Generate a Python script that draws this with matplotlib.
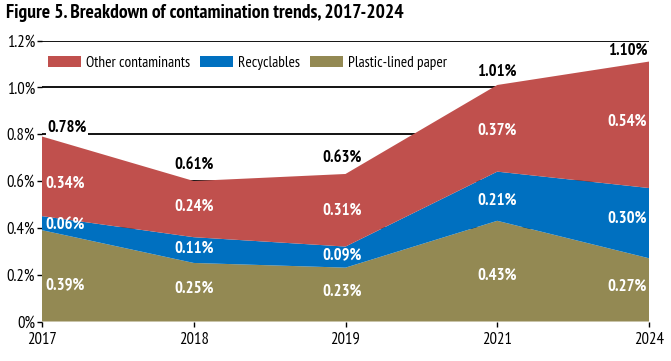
import numpy as np
import matplotlib
matplotlib.use("Agg")
import matplotlib.pyplot as plt

plt.rcParams['font.family'] = ['PT Sans Narrow', 'DejaVu Sans']

# data
years = ['2017', '2018', '2019', '2021', '2024']
plastic = [0.39, 0.25, 0.23, 0.43, 0.27]
recyclables = [0.06, 0.11, 0.09, 0.21, 0.30]
other = [0.34, 0.24, 0.31, 0.37, 0.54]
totals = ['0.78%', '0.61%', '0.63%', '1.01%', '1.10%']
yticks = [0, 0.2, 0.4, 0.6, 0.8, 1.0, 1.2]

c_other = '#C0504D'
c_rec = '#0070C0'
c_plastic = '#938953'

fig = plt.figure(figsize=(6.71, 3.61), dpi=100)
ax = fig.add_axes([42 / 671, 39.5 / 361, 607 / 671, 281 / 361])

x = np.arange(len(years))
ax.stackplot(x, plastic, recyclables, other,
             colors=[c_plastic, c_rec, c_other],
             labels=['Plastic-lined paper', 'Recyclables', 'Other contaminants'],
             zorder=2)

for yv in yticks[1:]:
    ax.axhline(yv, color='black', lw=1.3, zorder=1)

ax.set_xlim(0, len(years) - 1)
ax.set_ylim(0, 1.2)
ax.set_xticks(x)
ax.set_xticklabels(years)
ax.set_yticks(yticks)
ax.set_yticklabels(['0%' if v == 0 else '%.1f%%' % v for v in yticks])
ax.tick_params(axis='both', labelsize=12, length=3.6, width=1, colors='black')
ax.tick_params(axis='x', pad=4)
ax.tick_params(axis='y', pad=1.5)
for s in ax.spines.values():
    s.set_visible(False)

# label tweaks
xoff = [0.15, 0.0, -0.02, 0.0, -0.145]
yadj = [[-0.04, 0.015, 0.01, -0.02, 0.013],
        [-0.01, 0.005, 0.01, -0.02, 0.02],
        [-0.03, 0.01, 0.0, -0.01, 0.013]]

p = np.array(plastic)
r = np.array(recyclables)
o = np.array(other)
bands = [(p, np.zeros_like(p)), (r, p), (o, p + r)]
vals = [plastic, recyclables, other]
for k, ((h, base), v) in enumerate(zip(bands, vals)):
    for i in range(len(years)):
        ax.text(x[i] + xoff[i], base[i] + h[i] / 2 + yadj[k][i], '%.2f%%' % v[i],
                color='white', fontsize=12, fontweight='bold',
                ha='center', va='center', zorder=4)

top = p + r + o
toff = [0.165, 0.0, -0.02, 0.0, -0.14]
tup = [6, 11, 11, 9.5, 7.5]
for i in range(len(years)):
    ax.annotate(totals[i], (x[i] + toff[i], top[i]), xytext=(0, tup[i]),
                textcoords='offset points', ha='center', va='center',
                fontsize=12, fontweight='bold', color='black', zorder=1.5,
                bbox=dict(facecolor='white', edgecolor='none', pad=1.0))

h, l = ax.get_legend_handles_labels()
leg = ax.legend(h[::-1], l[::-1], loc='center left', ncol=3, frameon=False,
                fontsize=11, bbox_to_anchor=(6 / 607, 0.921), handlelength=2.16,
                handleheight=0.8, columnspacing=0.65, handletextpad=0.33,
                borderaxespad=0, borderpad=0)
leg.set_zorder(6)

fig.text(0.009, 0.963, 'Figure 5. Breakdown of contamination trends, 2017-2024',
         fontsize=14, fontweight='bold', ha='left', va='center')

fig.savefig('out.png', dpi=100)
